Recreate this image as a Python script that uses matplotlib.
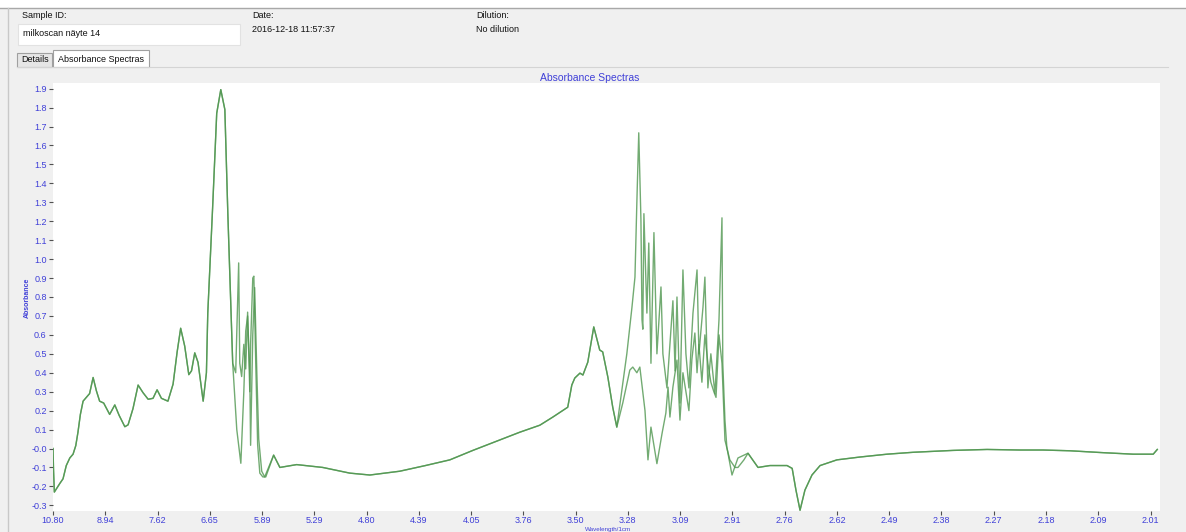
import numpy as np
import matplotlib
matplotlib.use("Agg")
import matplotlib.pyplot as plt
from matplotlib.patches import Rectangle

plt.rcParams['font.family'] = ['Liberation Sans', 'DejaVu Sans']

# ---------- DATA (wavenumber cm-1, absorbance) ----------
# shared part, low wavenumber side
left_wn = [926, 928, 931, 951, 963, 975, 988, 1000, 1010, 1018, 1027, 1037, 1049, 1061,
           1074, 1086, 1098, 1113, 1135, 1154, 1170, 1191, 1203, 1221, 1240, 1258, 1277,
           1295, 1310, 1326, 1350, 1369, 1384, 1397, 1412, 1427, 1437, 1449, 1461, 1480,
           1492, 1497, 1515, 1530, 1545, 1560, 1571]
left_abs = [0.0, -0.115, -0.23, -0.185, -0.16, -0.09, -0.05, -0.03, 0.015, 0.085, 0.18,
            0.25, 0.27, 0.29, 0.375, 0.305, 0.25, 0.24, 0.18, 0.23, 0.175, 0.115, 0.125,
            0.21, 0.335, 0.295, 0.26, 0.265, 0.31, 0.265, 0.25, 0.34, 0.51, 0.635, 0.54,
            0.39, 0.41, 0.505, 0.455, 0.25, 0.40, 0.715, 1.276, 1.77, 1.895, 1.79, 1.24]

# first split region (two samples differ)
a1_wn = [1589, 1600, 1611, 1615, 1622, 1630, 1637, 1644, 1652, 1655, 1663, 1667, 1674,
         1681, 1689, 1700, 1711]
a1_abs = [0.45, 0.40, 0.98, 0.45, 0.38, 0.55, 0.42, 0.72, 0.30, 0.55, 0.90, 0.91, 0.45,
          0.02, -0.13, -0.15, -0.15]
b1_wn = [1589, 1604, 1619, 1630, 1637, 1644, 1652, 1655, 1663, 1670, 1678, 1685, 1696, 1707]
b1_abs = [0.45, 0.10, -0.078, 0.30, 0.62, 0.70, 0.40, 0.017, 0.60, 0.85, 0.40, 0.05,
          -0.12, -0.15]

# shared middle part
mid_wn = [1740, 1763, 1825, 1921, 2021, 2095, 2205, 2300, 2390, 2475, 2520, 2574, 2648,
          2722, 2770, 2825, 2840, 2851, 2870, 2881, 2899, 2921, 2943, 2954, 2973, 2991,
          3006]
mid_abs = [-0.035, -0.10, -0.085, -0.10, -0.13, -0.14, -0.12, -0.09, -0.06, -0.01, 0.015,
           0.045, 0.086, 0.123, 0.166, 0.218, 0.335, 0.372, 0.398, 0.388, 0.456, 0.642,
           0.52, 0.51, 0.377, 0.218, 0.113]

# second split region
a2_wn = [3043, 3062, 3073, 3080, 3087, 3095, 3099, 3102, 3106, 3117, 3124, 3132, 3143,
         3154, 3169, 3176, 3191, 3213, 3221, 3228, 3239, 3250, 3261, 3272, 3287, 3302,
         3309, 3324, 3331, 3342, 3353, 3368, 3383, 3394, 3397, 3405, 3412, 3431, 3453]
a2_abs = [0.50, 0.747, 0.905, 1.30, 1.667, 1.21, 0.68, 0.63, 1.24, 0.715, 1.085, 0.45,
          1.14, 0.50, 0.853, 0.50, 0.32, 0.78, 0.41, 0.80, 0.24, 0.943, 0.50, 0.32,
          0.715, 0.943, 0.50, 0.747, 0.905, 0.32, 0.50, 0.29, 0.68, 1.218, 0.45, 0.15,
          0.007, -0.14, -0.05]
b2_wn = [3028, 3054, 3065, 3080, 3091, 3110, 3121, 3132, 3154, 3173, 3187, 3195, 3202,
         3213, 3228, 3239, 3250, 3261, 3272, 3283, 3294, 3302, 3309, 3320, 3331, 3342,
         3353, 3364, 3372, 3383, 3394, 3405, 3423, 3442, 3453, 3475]
b2_abs = [0.24, 0.414, 0.43, 0.40, 0.43, 0.20, -0.06, 0.113, -0.08, 0.08, 0.187, 0.324,
          0.166, 0.324, 0.467, 0.15, 0.40, 0.30, 0.20, 0.47, 0.61, 0.40, 0.55, 0.35,
          0.60, 0.45, 0.35, 0.30, 0.27, 0.60, 0.45, 0.044, -0.06, -0.10, -0.10, -0.06]

# shared high wavenumber part
right_wn = [3490, 3527, 3571, 3634, 3653, 3667, 3682, 3700, 3726, 3756, 3818, 3903, 4003,
            4099, 4247, 4372, 4494, 4579, 4678, 4800, 4911, 4985, 5000]
right_abs = [-0.025, -0.10, -0.09, -0.09, -0.105, -0.22, -0.326, -0.22, -0.14, -0.09,
             -0.06, -0.045, -0.03, -0.02, -0.01, -0.005, -0.008, -0.008, -0.012, -0.022,
             -0.03, -0.03, -0.005]

tick_labels_x = ["10.80", "8.94", "7.62", "6.65", "5.89", "5.29", "4.80", "4.39", "4.05",
                 "3.76", "3.50", "3.28", "3.09", "2.91", "2.76", "2.62", "2.49", "2.38",
                 "2.27", "2.18", "2.09", "2.01"]
tick_labels_y = ["-0.3", "-0.2", "-0.1", "-0.0", "0.1", "0.2", "0.3", "0.4", "0.5", "0.6",
                 "0.7", "0.8", "0.9", "1.0", "1.1", "1.2", "1.3", "1.4", "1.5", "1.6",
                 "1.7", "1.8", "1.9"]

sample_id = "milkoscan näyte 14"
date_str = "2016-12-18 11:57:37"
dilution = "No dilution"

# ---------- FIGURE ----------
W, H = 1186, 532
fig = plt.figure(figsize=(W / 100, H / 100), dpi=100)
fig.patch.set_facecolor("#f0f0f0")

# UI overlay in pixel coords
ui = fig.add_axes([0, 0, 1, 1])
ui.set_xlim(0, W)
ui.set_ylim(H, 0)
ui.axis("off")
ui.add_patch(Rectangle((0, 0), W, 8, facecolor="white", edgecolor="none"))
ui.plot([0, W], [8, 8], color="#a8a8a8", lw=1)
ui.plot([8, 8], [8, H], color="#c8c8c8", lw=1)

txt = dict(fontsize=6.5, color="#111111", va="center", ha="left")
ui.text(22, 16, "Sample ID:", **txt)
ui.add_patch(Rectangle((18, 24), 222, 21, facecolor="white", edgecolor="#e2e2e2", lw=0.8))
ui.text(23, 34, sample_id, **txt)
ui.text(252, 16, "Date:", **txt)
ui.text(252, 30, date_str, **txt)
ui.text(476, 16, "Dilution:", **txt)
ui.text(476, 30, dilution, **txt)

# tabs
ui.plot([17, 1168], [67, 67], color="#d4d4d4", lw=0.8)
ui.add_patch(Rectangle((17, 53), 35, 14, facecolor="#e6e6e6", edgecolor="#a0a0a0", lw=0.8))
ui.text(21, 60, "Details", **txt)
ui.add_patch(Rectangle((53, 50), 96, 17, facecolor="white", edgecolor="#a0a0a0", lw=0.8))
ui.text(58, 59, "Absorbance Spectras", **txt)

blue = "#4040d8"
ui.text(590, 78, "Absorbance Spectras", fontsize=7.5, color=blue, ha="center", va="center")
ui.text(608, 529, "Wavelength/1cm", fontsize=4.5, color=blue, ha="center", va="center")
ui.text(27, 298, "Absorbance", fontsize=5, color=blue, ha="center", va="center",
        rotation=90, fontweight="bold")

# plot area
ax = fig.add_axes([53 / W, 1 - 511 / H, (1160 - 53) / W, (511 - 83) / H])
ax.set_facecolor("white")

wn_a = np.concatenate([left_wn, a1_wn, mid_wn, a2_wn, right_wn])
ab_a = np.concatenate([left_abs, a1_abs, mid_abs, a2_abs, right_abs])
wn_b = np.concatenate([left_wn, b1_wn, mid_wn, b2_wn, right_wn])
ab_b = np.concatenate([left_abs, b1_abs, mid_abs, b2_abs, right_abs])

ax.plot(wn_a, ab_a, color="#4f964f", lw=1.0, alpha=0.8)
ax.plot(wn_b, ab_b, color="#4f964f", lw=1.0, alpha=0.8)

ax.set_xlim(926, 5010)
ax.set_ylim(-0.33, 1.93)

n = len(tick_labels_x)
ax.set_xticks(926 + np.arange(n) * (4975 - 926) / (n - 1))
ax.set_xticklabels(tick_labels_x)
ax.set_yticks([float(s) for s in tick_labels_y])
ax.set_yticklabels(tick_labels_y)
ax.tick_params(axis="both", colors="#505050", labelcolor=blue, labelsize=6.5,
               length=3, width=0.8, direction="out", pad=1.5)
ax.tick_params(axis="x", pad=0.5)
for s in ax.spines.values():
    s.set_visible(False)

fig.savefig("out.png", dpi=100, facecolor=fig.get_facecolor())
